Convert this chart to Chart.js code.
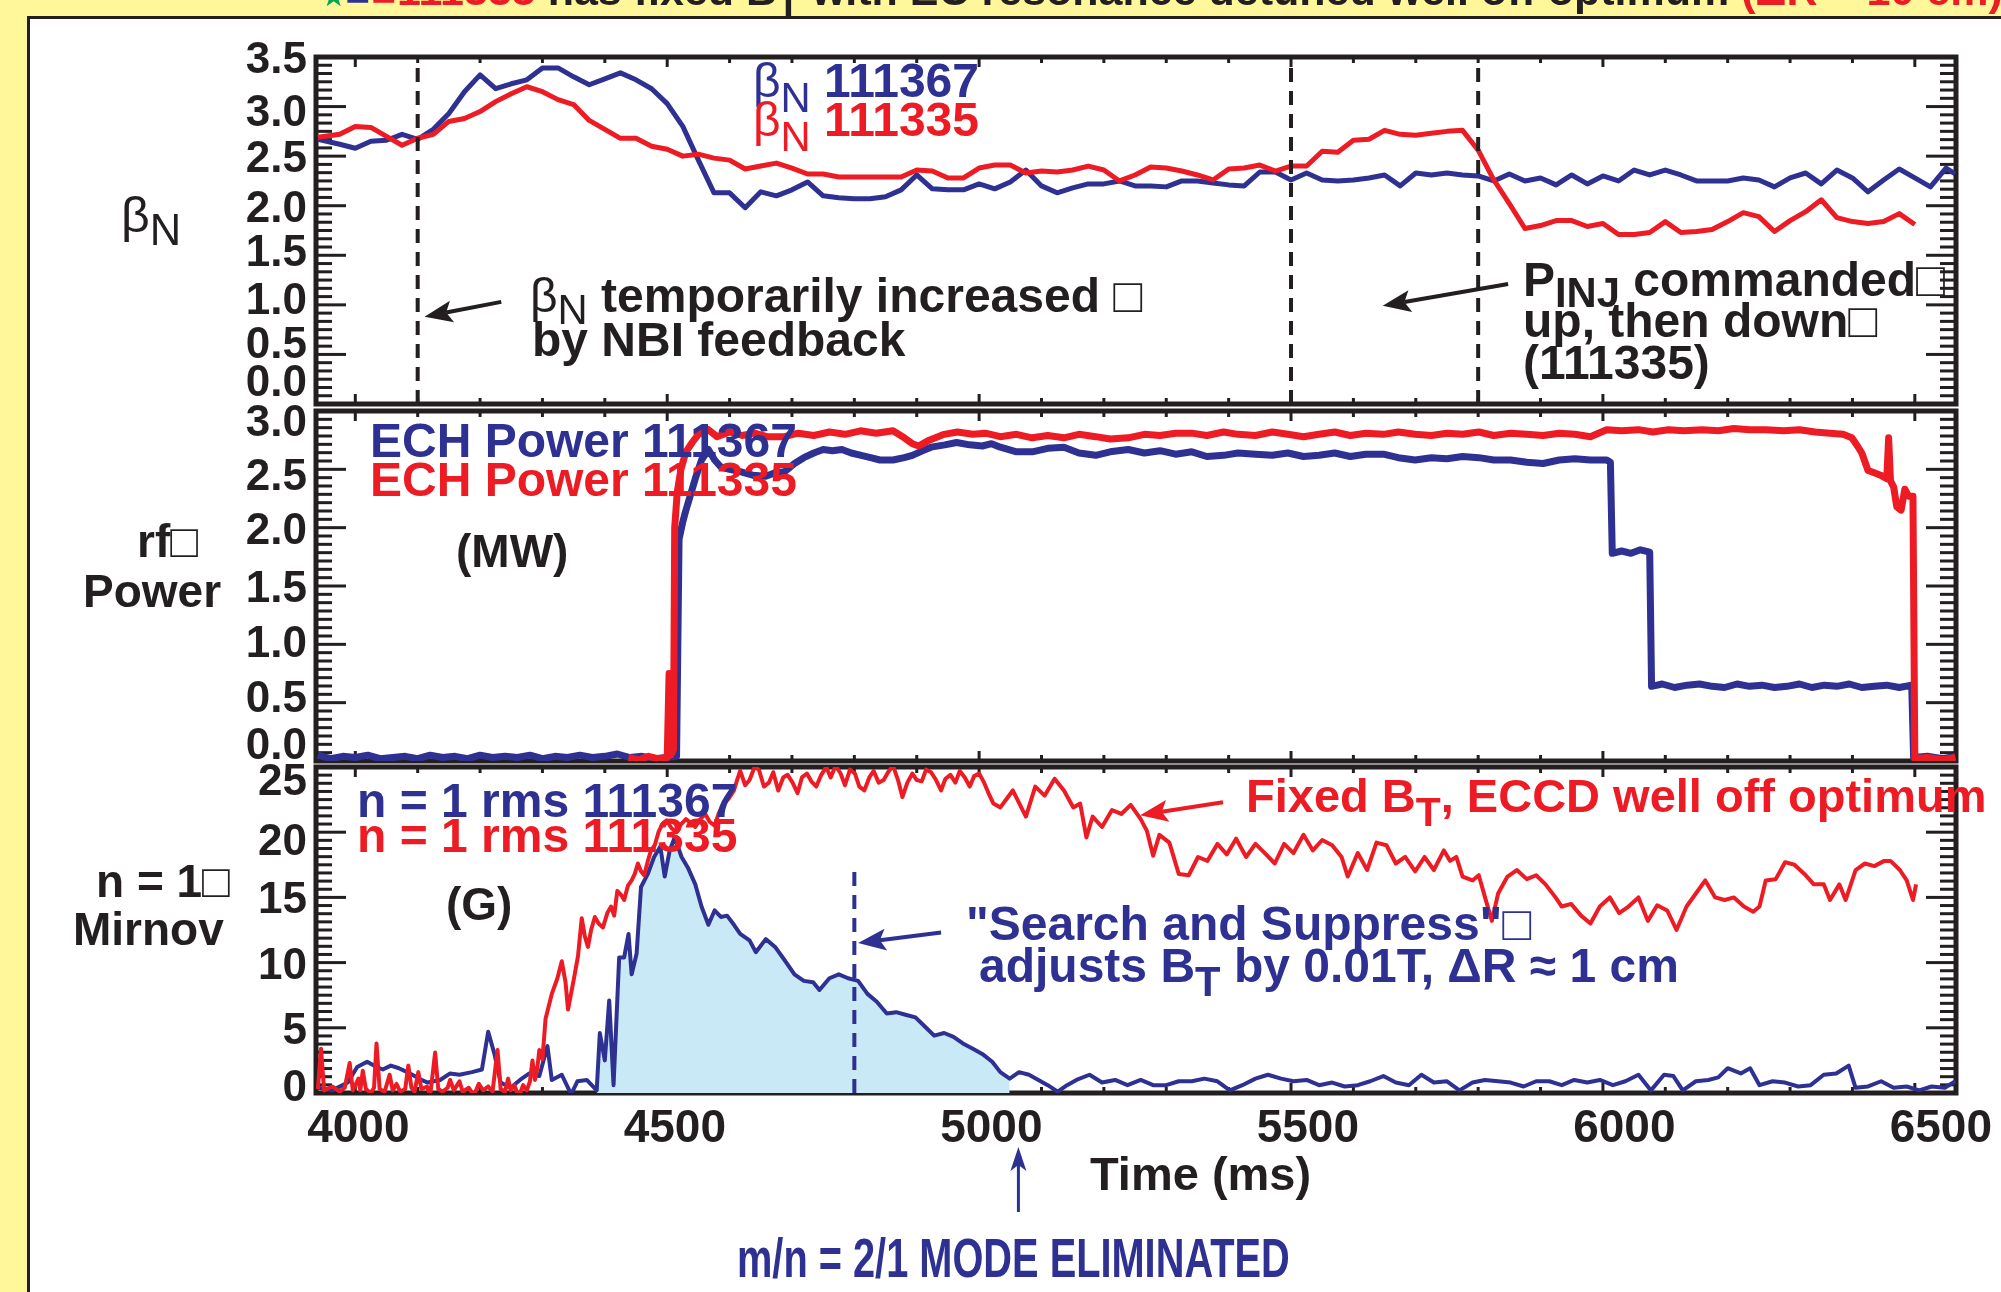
<!DOCTYPE html>
<html>
<head>
<meta charset="utf-8">
<script src="https://cdn.jsdelivr.net/npm/chart.js@4.4.1/dist/chart.umd.min.js"></script>
<style>
  html, body { margin: 0; padding: 0; }
  body { width: 2001px; height: 1292px; background: #fff799; position: relative; overflow: hidden;
         font-family: "Liberation Sans", Arial, Helvetica, sans-serif; }
  #sheet { position: absolute; left: 27px; top: 16px; width: 2000px; height: 1300px; background: #fff;
           border-left: 3px solid #231f20; border-top: 3px solid #231f20; }
  canvas { position: absolute; left: 0; top: 0; }
  .t { position: absolute; white-space: nowrap; line-height: 1; font-weight: bold; color: #231f20; }
  .sub { position: relative; font-size: 0.87em; }
</style>
</head>
<body>
<div id="sheet"></div>
<canvas id="p1" width="2001" height="1292"></canvas>
<canvas id="p2" width="2001" height="1292"></canvas>
<canvas id="p3" width="2001" height="1292"></canvas>
<script>
// --- DATOS ---
// beta_N (panel superior), cada 25 ms
const betaTime = [
  3940, 3975, 4000, 4025, 4050, 4075, 4100, 4125, 4150, 4175,
  4200, 4225, 4250, 4275, 4300, 4325, 4350, 4375, 4400, 4425,
  4450, 4475, 4500, 4525, 4550, 4575, 4600, 4625, 4650, 4675,
  4700, 4725, 4750, 4775, 4800, 4825, 4850, 4875, 4900, 4925,
  4950, 4975, 5000, 5025, 5050, 5075, 5100, 5125, 5150, 5175,
  5200, 5225, 5250, 5275, 5300, 5325, 5350, 5375, 5400, 5425,
  5450, 5475, 5500, 5525, 5550, 5575, 5600, 5625, 5650, 5675,
  5700, 5725, 5750, 5775, 5800, 5825, 5850, 5875, 5900, 5925,
  5950, 5975, 6000, 6025, 6050, 6075, 6100, 6125, 6150, 6175,
  6200, 6225, 6250, 6275, 6300, 6325, 6350, 6375, 6400, 6425,
  6450, 6475, 6500, 6525, 6550, 6565
];
const betaN367 = [
  2.67, 2.62, 2.58, 2.65, 2.66, 2.72, 2.67, 2.77, 2.93, 3.15,
  3.32, 3.18, 3.23, 3.27, 3.39, 3.39, 3.30, 3.22, 3.28, 3.34,
  3.27, 3.18, 3.03, 2.80, 2.46, 2.13, 2.13, 1.98, 2.14, 2.10,
  2.16, 2.24, 2.10, 2.08, 2.07, 2.07, 2.09, 2.16, 2.31, 2.17,
  2.16, 2.16, 2.22, 2.17, 2.24, 2.36, 2.20, 2.13, 2.18, 2.22,
  2.22, 2.25, 2.20, 2.20, 2.19, 2.25, 2.25, 2.23, 2.21, 2.20,
  2.34, 2.34, 2.26, 2.33, 2.26, 2.25, 2.26, 2.28, 2.31, 2.20,
  2.33, 2.31, 2.33, 2.31, 2.30, 2.25, 2.32, 2.25, 2.28, 2.21,
  2.31, 2.22, 2.30, 2.25, 2.36, 2.31, 2.36, 2.31, 2.25, 2.25,
  2.25, 2.28, 2.26, 2.19, 2.28, 2.33, 2.22, 2.36, 2.28, 2.14,
  2.26, 2.37, 2.28, 2.19, 2.38, 2.32
];
const betaN335 = [
  2.69, 2.72, 2.80, 2.79, 2.70, 2.61, 2.68, 2.72, 2.85, 2.88,
  2.95, 3.05, 3.13, 3.20, 3.15, 3.07, 3.02, 2.86, 2.77, 2.68,
  2.68, 2.60, 2.57, 2.50, 2.52, 2.48, 2.46, 2.37, 2.40, 2.43,
  2.38, 2.32, 2.32, 2.29, 2.29, 2.29, 2.29, 2.29, 2.36, 2.35,
  2.28, 2.28, 2.38, 2.41, 2.41, 2.33, 2.35, 2.34, 2.36, 2.40,
  2.36, 2.25, 2.31, 2.39, 2.38, 2.35, 2.31, 2.26, 2.37, 2.38,
  2.41, 2.35, 2.40, 2.40, 2.55, 2.54, 2.66, 2.67, 2.76, 2.72,
  2.71, 2.73, 2.75, 2.76, 2.56, 2.26, 2.02, 1.77, 1.80, 1.85,
  1.85, 1.79, 1.82, 1.71, 1.71, 1.73, 1.84, 1.73, 1.74, 1.76,
  1.84, 1.93, 1.89, 1.74, 1.85, 1.94, 2.06, 1.88, 1.84, 1.82,
  1.84, 1.92, 1.81, null, null, null
];

// potencia ECH (MW)
const echTime367 = [
  3940, 3960, 3980, 4000, 4020, 4040, 4060, 4080, 4100, 4120,
  4140, 4160, 4180, 4200, 4220, 4240, 4260, 4280, 4300, 4320,
  4340, 4360, 4380, 4400, 4420, 4440, 4460, 4480, 4500, 4515,
  4519, 4525, 4530, 4535, 4545, 4555, 4566, 4576, 4586, 4600,
  4617, 4637, 4658, 4673, 4688, 4704, 4719, 4735, 4750, 4765,
  4780, 4795, 4811, 4826, 4841, 4862, 4880, 4893, 4910, 4923,
  4945, 4964, 4985, 5005, 5020, 5034, 5060, 5085, 5110, 5136,
  5160, 5187, 5210, 5239, 5265, 5290, 5315, 5341, 5365, 5392,
  5415, 5443, 5470, 5495, 5520, 5545, 5570, 5595, 5620, 5648,
  5672, 5699, 5725, 5750, 5775, 5801, 5825, 5852, 5878, 5904,
  5930, 5955, 5980, 6006, 6012, 6015, 6030, 6045, 6060, 6075,
  6078, 6095, 6115, 6135, 6155, 6175, 6195, 6215, 6235, 6255,
  6275, 6295, 6315, 6335, 6355, 6375, 6395, 6415, 6435, 6455,
  6475, 6495, 6498, 6520, 6545, 6565
];
const echPow367 = [
  0.05, 0.02, 0.04, 0.03, 0.05, 0.02, 0.03, 0.04, 0.02, 0.05,
  0.03, 0.04, 0.02, 0.05, 0.03, 0.04, 0.03, 0.05, 0.02, 0.04,
  0.03, 0.05, 0.03, 0.04, 0.06, 0.03, 0.04, 0.02, 0.03, 0.04,
  1.90, 2.05, 2.15, 2.24, 2.42, 2.58, 2.67, 2.58, 2.52, 2.50,
  2.48, 2.45, 2.44, 2.47, 2.48, 2.55, 2.60, 2.64, 2.67, 2.66,
  2.67, 2.64, 2.62, 2.60, 2.58, 2.58, 2.60, 2.62, 2.66, 2.69,
  2.71, 2.73, 2.71, 2.70, 2.72, 2.69, 2.65, 2.65, 2.68, 2.69,
  2.64, 2.62, 2.65, 2.67, 2.64, 2.66, 2.63, 2.65, 2.61, 2.62,
  2.64, 2.63, 2.62, 2.64, 2.61, 2.62, 2.64, 2.61, 2.63, 2.63,
  2.60, 2.58, 2.60, 2.59, 2.61, 2.60, 2.58, 2.58, 2.56, 2.55,
  2.58, 2.59, 2.58, 2.58, 2.56, 1.78, 1.80, 1.78, 1.81, 1.79,
  0.64, 0.66, 0.63, 0.65, 0.66, 0.64, 0.63, 0.66, 0.64, 0.65,
  0.63, 0.64, 0.66, 0.63, 0.65, 0.64, 0.66, 0.63, 0.64, 0.65,
  0.63, 0.65, 0.03, 0.04, 0.02, 0.04
];
const echTime335 = [
  4438, 4455, 4470, 4485, 4500, 4503, 4506, 4510, 4512, 4516,
  4522, 4530, 4540, 4550, 4566, 4580, 4600, 4620, 4640, 4660,
  4688, 4710, 4735, 4760, 4785, 4810, 4835, 4862, 4880, 4893,
  4903, 4920, 4944, 4965, 4990, 5010, 5034, 5060, 5085, 5110,
  5136, 5160, 5187, 5210, 5239, 5265, 5290, 5315, 5341, 5365,
  5392, 5415, 5443, 5470, 5495, 5520, 5545, 5570, 5595, 5620,
  5648, 5672, 5699, 5725, 5750, 5775, 5801, 5825, 5852, 5878,
  5904, 5930, 5955, 5980, 6006, 6030, 6057, 6080, 6105, 6130,
  6159, 6185, 6210, 6235, 6261, 6290, 6315, 6340, 6364, 6385,
  6399, 6408, 6415, 6425, 6435, 6445, 6455, 6458, 6461, 6466,
  6471, 6478, 6484, 6490, 6497, 6500, 6520, 6545, 6565
];
const echPow335 = [
  0.03, 0.01, 0.04, 0.02, 0.03, 0.75, 0.05, 0.10, 2.00, 2.30,
  2.50, 2.65, 2.73, 2.80, 2.84, 2.78, 2.82, 2.79, 2.81, 2.78,
  2.78, 2.81, 2.79, 2.82, 2.80, 2.83, 2.81, 2.83, 2.77, 2.72,
  2.70, 2.75, 2.80, 2.82, 2.80, 2.81, 2.78, 2.80, 2.77, 2.79,
  2.77, 2.80, 2.78, 2.76, 2.77, 2.80, 2.79, 2.81, 2.81, 2.79,
  2.82, 2.80, 2.79, 2.82, 2.80, 2.78, 2.80, 2.82, 2.79, 2.81,
  2.80, 2.82, 2.80, 2.79, 2.81, 2.80, 2.82, 2.79, 2.81, 2.80,
  2.79, 2.81, 2.80, 2.78, 2.84, 2.83, 2.84, 2.82, 2.84, 2.83,
  2.84, 2.83, 2.85, 2.84, 2.84, 2.83, 2.84, 2.82, 2.81, 2.80,
  2.77, 2.70, 2.64, 2.49, 2.47, 2.45, 2.42, 2.77, 2.40, 2.35,
  2.18, 2.15, 2.33, 2.27, 2.27, 0.02, 0.03, 0.01, 0.03
];

// n = 1 rms Mirnov (G)
const mirTime335 = [
  3940, 3945, 3950, 3963, 3975, 3983, 3991, 3996, 4005, 4008,
  4012, 4017, 4025, 4030, 4034, 4039, 4047, 4055, 4060, 4066,
  4072, 4080, 4085, 4090, 4095, 4101, 4106, 4115, 4120, 4128,
  4133, 4140, 4148, 4152, 4158, 4167, 4172, 4182, 4190, 4198,
  4205, 4213, 4220, 4228, 4233, 4240, 4245, 4249, 4255, 4262,
  4269, 4275, 4280, 4284, 4288, 4292, 4295, 4300, 4305, 4315,
  4324, 4331, 4337, 4341, 4351, 4357, 4363, 4368, 4373, 4378,
  4384, 4390, 4397, 4404, 4410, 4415, 4420, 4426, 4431, 4437,
  4443, 4448, 4453, 4458, 4463, 4469, 4474, 4480, 4486, 4492,
  4499, 4507, 4515, 4522, 4530, 4538, 4545, 4553, 4561, 4568,
  4576, 4583, 4591, 4599, 4607, 4612, 4617, 4625, 4632, 4640,
  4647, 4655, 4663, 4670, 4678, 4686, 4693, 4701, 4709, 4716,
  4724, 4731, 4739, 4747, 4755, 4762, 4770, 4778, 4785, 4793,
  4801, 4808, 4816, 4824, 4831, 4839, 4847, 4854, 4862, 4870,
  4877, 4885, 4893, 4900, 4908, 4915, 4923, 4931, 4939, 4946,
  4954, 4962, 4969, 4977, 4985, 4992, 5000, 5008, 5015, 5023,
  5034, 5054, 5075, 5090, 5105, 5121, 5136, 5151, 5162, 5172,
  5182, 5197, 5213, 5228, 5243, 5259, 5269, 5279, 5289, 5305,
  5320, 5336, 5351, 5366, 5382, 5397, 5412, 5428, 5443, 5458,
  5474, 5489, 5504, 5520, 5535, 5550, 5566, 5581, 5591, 5607,
  5622, 5637, 5653, 5668, 5683, 5699, 5714, 5729, 5745, 5755,
  5765, 5775, 5791, 5801, 5811, 5822, 5832, 5847, 5862, 5878,
  5893, 5908, 5924, 5934, 5949, 5965, 5980, 5995, 6011, 6026,
  6041, 6057, 6072, 6087, 6103, 6118, 6134, 6149, 6164, 6180,
  6195, 6210, 6226, 6241, 6251, 6261, 6277, 6292, 6307, 6323,
  6338, 6354, 6364, 6379, 6389, 6405, 6420, 6435, 6451, 6461,
  6476, 6487, 6497, 6502
];
const mir335 = [
  0.3, 3.4, 0.2, 0.5, 0.1, 0.4, 2.3, 0.2, 1.1, 0.2,
  1.7, 0.3, 0.0, 0.4, 3.8, 0.3, 0.1, 1.4, 0.2, 0.7,
  0.1, 0.3, 2.1, 0.4, 0.1, 1.6, 0.3, 0.5, -0.2, 3.1,
  0.3, 0.1, 0.4, 1.0, 0.2, 0.9, 0.1, 0.4, -0.2, 0.7,
  0.2, 0.5, 0.1, 3.3, 0.3, 0.1, 1.1, 0.2, 0.6, -0.3,
  0.6, 0.2, 0.9, 2.5, 1.0, 2.0, 3.3, 2.6, 5.7, 7.6,
  8.8, 10.1, 8.5, 6.4, 8.9, 10.5, 13.4, 12.0, 11.2, 12.5,
  13.5, 13.0, 12.7, 13.8, 14.3, 13.6, 15.5, 15.2, 14.8, 15.9,
  16.3, 16.8, 17.6, 17.0, 16.7, 17.8, 18.6, 19.0, 20.0, 20.6,
  20.9, 20.3, 20.0, 20.6, 21.0, 20.7, 20.4, 21.0, 21.4, 20.8,
  20.5, 21.5, 22.2, 22.6, 23.2, 24.0, 24.7, 23.6, 24.0, 25.0,
  24.8, 23.5, 23.8, 24.6, 23.2, 24.2, 24.4, 23.8, 23.0, 24.2,
  24.5, 23.9, 23.5, 24.4, 25.0, 24.2, 25.1, 24.5, 23.6, 24.8,
  24.5, 23.5, 23.2, 24.2, 24.7, 23.8, 24.0, 24.6, 25.1, 24.0,
  22.7, 23.8, 24.5, 24.0, 23.9, 24.8, 24.6, 24.0, 23.2, 24.1,
  24.4, 23.8, 24.7, 24.2, 23.5, 24.3, 24.5, 23.8, 23.0, 22.2,
  21.9, 23.2, 21.2, 23.5, 22.8, 24.1, 23.2, 21.9, 22.2, 19.6,
  21.2, 20.4, 21.7, 21.4, 22.1, 21.0, 20.1, 18.2, 19.8, 19.2,
  16.8, 16.7, 18.1, 17.8, 19.1, 18.3, 19.5, 18.1, 19.1, 18.4,
  17.6, 19.1, 18.4, 19.8, 18.6, 19.4, 19.0, 18.1, 16.6, 18.4,
  17.1, 19.2, 19.0, 17.6, 18.1, 17.0, 18.1, 17.1, 18.6, 17.8,
  18.1, 16.6, 16.3, 16.7, 15.0, 13.2, 15.3, 16.6, 17.1, 16.4,
  16.7, 16.0, 15.0, 14.3, 14.5, 13.6, 13.0, 14.3, 15.0, 13.8,
  14.3, 15.0, 13.2, 14.4, 14.0, 12.5, 14.3, 15.3, 16.3, 15.0,
  14.8, 15.0, 14.3, 13.9, 14.3, 16.3, 16.4, 17.7, 17.5, 16.8,
  16.0, 16.0, 14.8, 16.0, 14.8, 17.1, 17.6, 17.4, 17.8, 17.8,
  17.1, 16.3, 14.8, 16.0
];
const mirTime367 = [
  3940, 3963, 3988, 4003, 4019, 4034, 4044, 4057, 4070, 4083,
  4095, 4106, 4116, 4136, 4152, 4167, 4187, 4203, 4213, 4223,
  4233, 4249, 4264, 4279, 4295, 4308, 4315, 4331, 4346, 4356,
  4371, 4387, 4392, 4400, 4407, 4414, 4423, 4431, 4438, 4443,
  4451, 4458, 4469, 4479, 4489, 4496, 4504, 4512, 4523, 4533,
  4545, 4555, 4566, 4576, 4586, 4596, 4607, 4617, 4632, 4642,
  4658, 4673, 4688, 4704, 4719, 4734, 4744, 4760, 4775, 4790,
  4806, 4821, 4836, 4852, 4867, 4882, 4898, 4913, 4928, 4944,
  4959, 4974, 4990, 5005, 5021, 5034, 5049, 5064, 5080, 5095,
  5110, 5126, 5141, 5156, 5177, 5197, 5218, 5238, 5259, 5279,
  5300, 5320, 5341, 5361, 5382, 5402, 5422, 5443, 5463, 5484,
  5504, 5525, 5545, 5566, 5586, 5607, 5627, 5648, 5668, 5689,
  5709, 5729, 5750, 5770, 5791, 5811, 5832, 5852, 5873, 5893,
  5914, 5934, 5954, 5975, 5995, 6016, 6036, 6057, 6077, 6098,
  6113, 6128, 6149, 6169, 6185, 6200, 6221, 6236, 6251, 6272,
  6292, 6313, 6333, 6354, 6374, 6394, 6405, 6425, 6446, 6466,
  6487, 6507, 6527, 6548, 6565
];
const mir367 = [
  0.4, 0.2, 0.8, 2.0, 2.4, 2.0, 1.8, 2.1, 1.9, 1.6,
  1.3, 1.0, 0.8, 1.0, 1.5, 1.4, 1.6, 1.8, 4.7, 3.0,
  0.8, 0.4, 1.0, 1.5, 1.3, 3.6, 1.0, 1.4, -0.1, 0.9,
  1.0, 0.2, 4.6, 2.5, 7.1, 0.6, 10.4, 10.4, 12.2, 9.1,
  10.7, 15.8, 16.8, 18.1, 18.9, 16.6, 18.6, 19.6, 18.1, 17.3,
  16.0, 14.3, 12.9, 14.0, 13.5, 13.6, 12.9, 12.2, 11.7, 10.8,
  11.8, 11.2, 10.2, 9.1, 8.6, 8.5, 7.9, 8.8, 9.1, 8.8,
  8.6, 7.6, 7.0, 6.1, 6.2, 6.0, 5.8, 5.1, 4.4, 4.6,
  4.3, 3.8, 3.4, 3.0, 2.4, 1.6, 1.1, 1.6, 1.4, 1.0,
  0.6, 0.1, 0.6, 1.0, 1.4, 0.8, 1.0, 0.6, 1.0, 0.6,
  0.6, 0.9, 0.9, 1.1, 0.9, 0.2, 0.6, 1.1, 1.4, 1.1,
  0.9, 1.0, 0.6, 0.8, 0.5, 0.6, 0.9, 1.3, 0.8, 0.6,
  1.4, 0.8, 0.9, 0.2, 0.8, 1.0, 0.9, 0.8, 0.5, 0.9,
  0.9, 0.6, 1.0, 0.8, 1.0, 0.6, 0.9, 1.4, 0.2, 1.4,
  1.3, 0.2, 0.9, 1.0, 1.2, 1.9, 1.5, 1.9, 0.6, 0.9,
  0.8, 0.5, 0.6, 1.4, 1.5, 2.1, 0.4, 0.5, 0.9, 0.4,
  0.5, 0.2, 0.5, 0.4, 0.9
];

// tramo del modo 2/1 (relleno) y marcas verticales
const modeStart = 4380, modeEnd = 5050;
const betaMarks = [4100, 5500, 5800];
const searchMark = 4800, searchTop = 17.3;

// ejes
const xTicks = [4000, 4500, 5000, 5500, 6000, 6500];
const xLabels = ['4000', '4500', '5000', '5500', '6000', '6500'];
const yTicks1 = [0, 0.5, 1.0, 1.5, 2.0, 2.5, 3.0, 3.5];
const yLabels1 = ['0.0', '0.5', '1.0', '1.5', '2.0', '2.5', '3.0', '3.5'];
const yTicks2 = [0, 0.5, 1.0, 1.5, 2.0, 2.5, 3.0];
const yLabels2 = ['0.0', '0.5', '1.0', '1.5', '2.0', '2.5', '3.0'];
const yTicks3 = [0, 5, 10, 15, 20, 25];
const yLabels3 = ['0', '5', '10', '15', '20', '25'];

// --- ESTILO ---
const W = 2001, H = 1292;
const INK = '#231f20', BLUE = '#2e3192', RED = '#ed1c24', FILL = '#c8e9f5';
const PLOT_L = 316, PLOT_R = 1956;

const axisSpec = {
  p1: { ticks: yTicks1, labels: yLabels1, minor: 6, nudge: { 0: -24, 1: -12, 2: -7, 3: -5, 6: 3 },
        arrows: [{ from: [4234, 1.03], to: [4111, 0.88], color: INK }, { from: [5848, 1.21], to: [5647, 0.99], color: INK }] },
  p2: { ticks: yTicks2, labels: yLabels2, minor: 7, nudge: { 0: -18, 1: -7, 2: -3, 5: 5, 6: 9 }, arrows: [] },
  p3: { ticks: yTicks3, labels: yLabels3, minor: 8, nudge: { 0: -8, 4: 7, 5: 12 }, xAxis: true,
        arrows: [{ from: [5391, 22.3], to: [5258, 21.3], color: RED }, { from: [4939, 12.3], to: [4806, 11.5], color: BLUE }] }
};

function seg(ctx, x1, y1, x2, y2) {
  ctx.beginPath(); ctx.moveTo(x1, y1); ctx.lineTo(x2, y2); ctx.stroke();
}

function arrow(ctx, x1, y1, x2, y2, color, w, len, half) {
  const a = Math.atan2(y2 - y1, x2 - x1), c = Math.cos(a), s = Math.sin(a);
  const bx = x2 - len * c, by = y2 - len * s;
  ctx.strokeStyle = color; ctx.fillStyle = color; ctx.lineWidth = w;
  seg(ctx, x1, y1, bx + 6 * c, by + 6 * s);
  ctx.beginPath();
  ctx.moveTo(x2, y2);
  ctx.lineTo(bx - half * s, by + half * c);
  ctx.lineTo(bx + 6 * c, by + 6 * s);
  ctx.lineTo(bx + half * s, by - half * c);
  ctx.closePath(); ctx.fill();
}

const framePlugin = {
  id: 'frame',
  beforeDatasetsDraw(chart) {
    const o = axisSpec[chart.canvas.id];
    const { ctx, chartArea: a, scales: { x, y } } = chart;
    ctx.save();
    ctx.strokeStyle = INK; ctx.fillStyle = INK;
    // marcas de tiempo, arriba y abajo
    ctx.lineWidth = 3;
    for (let t = 4000; t <= 6500; t += 100) {
      const px = x.getPixelForValue(t), len = t % 500 === 0 ? 10 : 6;
      seg(ctx, px, a.top, px, a.top + len);
      seg(ctx, px, a.bottom, px, a.bottom - len);
    }
    // marcas del eje y, izquierda y derecha
    o.ticks.forEach((v, i) => {
      const py = y.getPixelForValue(v);
      seg(ctx, a.left, py, a.left + 30, py);
      seg(ctx, a.right, py, a.right - 30, py);
      if (i < o.ticks.length - 1) {
        const step = (o.ticks[i + 1] - v) / o.minor;
        for (let k = 1; k < o.minor; k++) {
          const my = y.getPixelForValue(v + k * step);
          seg(ctx, a.left, my, a.left + 16, my);
          seg(ctx, a.right, my, a.right - 16, my);
        }
      }
    });
    ctx.lineWidth = 5;
    ctx.strokeRect(a.left, a.top, a.right - a.left, a.bottom - a.top);
    // etiquetas
    ctx.font = 'bold 44px "Liberation Sans", Arial, sans-serif';
    ctx.textAlign = 'right'; ctx.textBaseline = 'alphabetic';
    o.ticks.forEach((v, i) => {
      ctx.fillText(o.labels[i], 307, y.getPixelForValue(v) + 16 + (o.nudge[i] || 0));
    });
    if (o.xAxis) {
      ctx.font = 'bold 46px "Liberation Sans", Arial, sans-serif';
      ctx.textAlign = 'center';
      xTicks.forEach((t, i) => {
        ctx.fillText(xLabels[i], x.getPixelForValue(t) + 3 + (t - 4000) * 0.0092, 1142);
      });
    }
    ctx.restore();
  },
  afterDatasetsDraw(chart) {
    const o = axisSpec[chart.canvas.id];
    const { ctx, scales: { x, y } } = chart;
    ctx.save();
    o.arrows.forEach(ar => arrow(ctx, x.getPixelForValue(ar.from[0]), y.getPixelForValue(ar.from[1]),
      x.getPixelForValue(ar.to[0]), y.getPixelForValue(ar.to[1]), ar.color, 4, 28, 11));
    if (o.xAxis) {
      const px = x.getPixelForValue(5063);
      arrow(ctx, px, 1212, px, 1147, BLUE, 3, 24, 8);
    }
    ctx.restore();
  }
};

function line(ts, vs, color, width, order) {
  return { data: ts.map((t, i) => ({ x: t, y: vs[i] })), borderColor: color, borderWidth: width,
           order: order, pointRadius: 0, borderJoinStyle: 'round', fill: false };
}
function vmark(t, top, color, order) {
  return { data: [{ x: t, y: 0 }, { x: t, y: top }], borderColor: color, borderWidth: 4,
           borderDash: [14, 9], order: order, pointRadius: 0, fill: false };
}

function panel(id, top, bottom, yMax, datasets) {
  return new Chart(document.getElementById(id), {
    type: 'line',
    data: { datasets: datasets },
    options: {
      responsive: false, animation: false, devicePixelRatio: 1,
      layout: { padding: { left: PLOT_L, right: W - PLOT_R, top: top, bottom: H - bottom } },
      plugins: { legend: { display: false }, tooltip: { enabled: false } },
      scales: {
        x: { type: 'linear', min: 3937, max: 6566, display: false },
        y: { type: 'linear', min: 0, max: yMax, display: false }
      }
    },
    plugins: [framePlugin]
  });
}

panel('p1', 57, 404, 3.5, [
  ...betaMarks.map(t => vmark(t, 3.5, INK, 0)),
  line(betaTime, betaN335, RED, 5, 1),
  line(betaTime, betaN367, BLUE, 5, 2)
]);

panel('p2', 411, 761, 3.0, [
  line(echTime335, echPow335, RED, 7, 1),
  line(echTime367, echPow367, BLUE, 7, 2)
]);

const modeIdx = mirTime367.map((t, i) => i).filter(i => mirTime367[i] >= modeStart && mirTime367[i] <= modeEnd);
panel('p3', 767, 1093, 25, [
  vmark(searchMark, searchTop, BLUE, 0),
  line(mirTime335, mir335, RED, 4, 1),
  line(mirTime367, mir367, BLUE, 4, 2),
  { data: modeIdx.map(i => ({ x: mirTime367[i], y: mir367[i] })), borderWidth: 0, pointRadius: 0,
    backgroundColor: FILL, fill: 'origin', order: 3 }
]);

// --- TEXTOS ---
const bN = '<span style="font-weight:normal">β<span class="sub" style="top:15px">N</span></span>';
const box = '□';
const notes = [
  [322, 5, 43, INK, '<span style="color:#00a651;font-size:26px">★</span><span style="color:' + BLUE + '">■</span><span style="color:' + RED + '">■</span><span style="color:' + RED + '">111335</span> has fixed B<span class="sub" style="top:12px">T</span> with EC resonance detuned well off optimum <span style="color:' + RED + '">(ΔR ~ 10 cm)</span>'],
  [121, 232, 50, INK, '<span style="font-weight:normal">β<span class="sub" style="top:13px">N</span></span>'],
  [753, 98, 48, BLUE, bN + ' 111367'],
  [753, 137, 48, RED, bN + ' 111335'],
  [530, 313, 48, INK, '<span style="font-weight:normal">β<span class="sub" style="top:12px">N</span></span> temporarily increased ' + box],
  [532, 357, 48, INK, 'by NBI feedback'],
  [1523, 297, 48, INK, 'P<span class="sub" style="top:11px">INJ</span> commanded' + box],
  [1523, 338, 48, INK, 'up, then down' + box],
  [1523, 380, 48, INK, '(111335)'],
  [370, 458, 48, BLUE, 'ECH Power 111367'],
  [370, 497, 48, RED, 'ECH Power 111335'],
  [456, 567, 46, INK, '(MW)'],
  [137, 557, 46, INK, 'rf' + box],
  [83, 607, 46, INK, 'Power'],
  [357, 818, 48, BLUE, 'n = 1 rms 111367'],
  [357, 853, 48, RED, 'n = 1 rms 111335'],
  [446, 920, 46, INK, '(G)'],
  [96, 897, 46, INK, 'n = 1' + box],
  [73, 945, 46, INK, 'Mirnov'],
  [1246, 812, 47, RED, 'Fixed B<span class="sub" style="top:14px">T</span>, ECCD well off optimum'],
  [966, 941, 48, BLUE, '"Search and Suppress"' + box],
  [979, 983, 48, BLUE, 'adjusts B<span class="sub" style="top:14px">T</span> by 0.01T, ΔR ≈ 1 cm'],
  [1090, 1190, 47, INK, 'Time (ms)']
];
notes.forEach(n => {
  const d = document.createElement('div');
  d.className = 't';
  d.style.left = n[0] + 'px';
  d.style.top = (n[1] - 0.8465 * n[2]) + 'px';
  d.style.fontSize = n[2] + 'px';
  d.style.color = n[3];
  d.innerHTML = n[4];
  document.body.appendChild(d);
});
const mode = document.createElement('div');
mode.className = 't';
mode.style.cssText = 'left:737px; top:' + (1277 - 0.8465 * 56) + 'px; font-size:56px; color:' + BLUE + '; transform:scaleX(0.71); transform-origin:0 0;';
mode.textContent = 'm/n = 2/1 MODE ELIMINATED';
document.body.appendChild(mode);
</script>
</body>
</html>
